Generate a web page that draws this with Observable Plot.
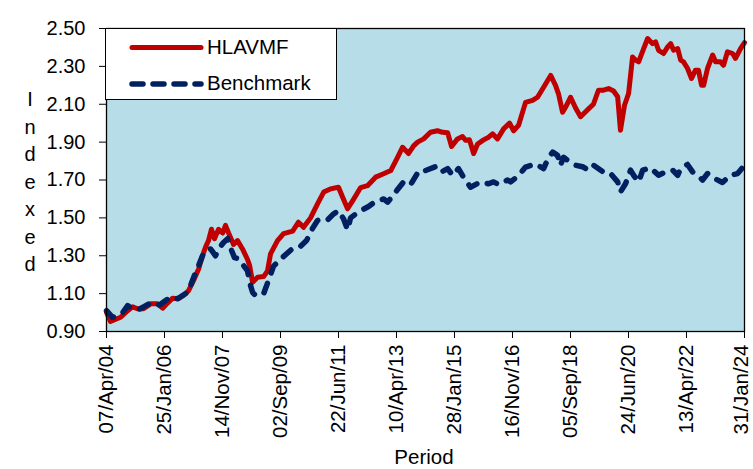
<!DOCTYPE html>
<html><head><meta charset="utf-8">
<script src="https://cdn.jsdelivr.net/npm/d3@7"></script>
<script src="https://cdn.jsdelivr.net/npm/@observablehq/plot@0.6"></script>
<style>
body{margin:0;background:#fff;font-family:"Liberation Sans",Arial,sans-serif;}
#wrap{position:relative;width:753px;height:469px;overflow:hidden;background:#fff;}
#chart{position:absolute;left:0;top:0;}
#chart g[aria-label^="x-axis"] text{font-size:20.5px;}
#legend{position:absolute;left:105px;top:28px;width:232px;height:72px;box-sizing:border-box;border:1px solid #000;background:#fff;}
#legend .lab{position:absolute;left:101px;font-size:20.5px;color:#000;line-height:20px;}
#ytitle{position:absolute;left:18px;top:86px;width:24px;text-align:center;font-size:20px;line-height:27.5px;color:#000;}
#xtitle{position:absolute;left:374px;top:446px;width:100px;text-align:center;font-size:20.5px;color:#000;line-height:22px;}
</style></head>
<body><div id="wrap"><div id="chart"></div>
<div id="legend">
<svg width="232" height="72" style="position:absolute;left:0;top:0">
<line x1="26" y1="18.5" x2="95" y2="18.5" stroke="#C00000" stroke-width="5" stroke-linecap="round"/>
<line x1="26" y1="55" x2="95" y2="55" stroke="#002060" stroke-width="5.5" stroke-linecap="round" stroke-dasharray="11,10"/>
</svg>
<div class="lab" style="top:8px">HLAVMF</div>
<div class="lab" style="top:44px">Benchmark</div>
</div>
<div id="ytitle"></div>
<div id="xtitle">Period</div>
</div>
<script>
const seriesNames = ["HLAVMF", "Benchmark"];
const yAxisTitle = "Indexed";
const xAxisTitle = "Period";
const yTicks = [0.90, 1.10, 1.30, 1.50, 1.70, 1.90, 2.10, 2.30, 2.50];
const xTickLabels = ["07/Apr/04","25/Jan/06","14/Nov/07","02/Sep/09","22/Jun/11","10/Apr/13","28/Jan/15","16/Nov/16","05/Sep/18","24/Jun/20","13/Apr/22","31/Jan/24"];

const hlavmfDates = ["2004-04-07","2004-05-22","2004-09-14","2004-12-03","2005-01-28","2005-03-24","2005-06-01","2005-08-20","2005-11-08","2006-01-04","2006-02-28","2006-04-26","2006-07-03","2006-08-29","2006-10-25","2006-12-21","2007-02-16","2007-04-01","2007-05-05","2007-06-08","2007-07-12","2007-08-15","2007-09-30","2007-11-15","2007-12-18","2008-01-22","2008-03-18","2008-05-02","2008-06-28","2008-08-24","2008-09-16","2008-10-20","2008-12-16","2009-02-23","2009-04-08","2009-05-12","2009-07-30","2009-10-07","2010-01-18","2010-03-25","2010-05-21","2010-08-09","2010-10-27","2011-01-05","2011-03-22","2011-06-22","2011-08-07","2011-10-03","2011-11-29","2012-02-28","2012-05-16","2012-08-16","2012-11-15","2013-02-04","2013-04-22","2013-06-18","2013-08-25","2013-10-21","2013-12-05","2014-02-12","2014-05-01","2014-07-19","2014-09-15","2014-11-11","2014-12-26","2015-03-03","2015-04-29","2015-06-02","2015-07-17","2015-09-02","2015-10-17","2015-12-24","2016-02-19","2016-04-04","2016-05-30","2016-08-07","2016-10-14","2016-11-29","2017-01-25","2017-04-13","2017-07-01","2017-08-27","2017-11-04","2018-01-23","2018-03-19","2018-04-22","2018-06-07","2018-07-10","2018-09-06","2018-11-02","2018-12-28","2019-03-16","2019-05-23","2019-07-19","2019-09-15","2019-11-11","2020-01-07","2020-02-22","2020-03-25","2020-05-10","2020-06-25","2020-08-09","2020-09-13","2020-10-17","2020-12-13","2021-01-27","2021-03-23","2021-04-27","2021-05-31","2021-07-27","2021-09-11","2021-10-15","2021-11-18","2022-01-03","2022-02-06","2022-03-10","2022-04-24","2022-06-09","2022-07-24","2022-08-27","2022-10-01","2022-10-24","2022-12-08","2023-02-04","2023-03-08","2023-05-03","2023-06-07","2023-07-22","2023-09-18","2023-10-21","2023-12-17","2024-01-31"];
const hlavmfValues = [1.00,0.953,0.975,1.01,1.03,1.02,1.02,1.046,1.046,1.023,1.05,1.076,1.073,1.09,1.116,1.17,1.23,1.30,1.345,1.38,1.44,1.39,1.44,1.42,1.46,1.42,1.36,1.38,1.336,1.28,1.25,1.16,1.187,1.19,1.22,1.31,1.38,1.417,1.43,1.477,1.45,1.50,1.574,1.636,1.653,1.662,1.61,1.548,1.59,1.66,1.67,1.715,1.733,1.75,1.82,1.873,1.84,1.88,1.90,1.917,1.952,1.96,1.952,1.95,1.877,1.917,1.93,1.91,1.912,1.84,1.89,1.912,1.926,1.944,1.917,1.97,2.00,1.96,1.99,2.11,2.12,2.137,2.19,2.252,2.20,2.155,2.058,2.084,2.137,2.08,2.034,2.07,2.10,2.174,2.174,2.183,2.17,2.14,1.963,2.095,2.157,2.35,2.333,2.324,2.394,2.447,2.42,2.43,2.385,2.368,2.403,2.42,2.385,2.394,2.333,2.324,2.29,2.236,2.28,2.28,2.20,2.20,2.29,2.36,2.324,2.324,2.306,2.377,2.368,2.342,2.394,2.426];

const benchmarkDates = ["2004-04-07","2004-06-15","2004-08-22","2004-10-07","2004-12-03","2005-01-28","2005-04-06","2005-06-01","2005-08-20","2005-10-16","2005-11-30","2006-02-07","2006-04-04","2006-06-22","2006-08-18","2006-10-14","2006-11-17","2007-01-13","2007-02-16","2007-04-01","2007-05-05","2007-07-01","2007-08-27","2007-09-30","2007-11-26","2008-01-11","2008-02-25","2008-03-29","2008-05-14","2008-07-10","2008-08-24","2008-09-16","2008-10-20","2008-11-24","2009-01-20","2009-02-23","2009-04-19","2009-06-15","2009-09-14","2010-01-06","2010-04-06","2010-06-24","2010-09-01","2010-10-27","2010-12-23","2011-02-19","2011-04-26","2011-06-22","2011-08-18","2011-10-03","2011-11-06","2012-01-02","2012-03-09","2012-05-28","2012-08-16","2012-11-15","2012-12-30","2013-02-25","2013-04-22","2013-06-29","2013-09-17","2013-12-05","2014-01-20","2014-03-05","2014-06-26","2014-08-22","2014-11-11","2015-01-07","2015-03-14","2015-05-10","2015-07-28","2015-11-20","2016-02-19","2016-04-15","2016-06-11","2016-09-22","2016-10-26","2017-01-25","2017-04-13","2017-08-05","2017-11-04","2017-12-31","2018-02-15","2018-04-11","2018-05-14","2018-06-18","2018-08-14","2018-11-02","2019-01-20","2019-03-28","2019-05-23","2019-10-08","2019-12-04","2020-02-22","2020-03-25","2020-05-21","2020-07-17","2020-08-21","2020-10-17","2020-12-02","2021-03-01","2021-05-31","2021-08-19","2021-11-07","2022-01-03","2022-02-06","2022-04-24","2022-06-21","2022-08-17","2022-10-12","2022-12-08","2023-02-26","2023-05-26","2023-08-25","2023-11-14","2024-01-31"];
const benchmarkValues = [1.01,0.975,0.984,1.00,1.037,1.02,1.016,1.03,1.051,1.046,1.04,1.064,1.081,1.073,1.09,1.107,1.143,1.213,1.248,1.30,1.328,1.336,1.30,1.336,1.37,1.39,1.328,1.29,1.284,1.248,1.22,1.16,1.107,1.09,1.10,1.10,1.17,1.245,1.287,1.334,1.345,1.38,1.445,1.486,1.495,1.49,1.52,1.538,1.495,1.437,1.50,1.52,1.54,1.56,1.587,1.60,1.583,1.615,1.65,1.69,1.675,1.737,1.755,1.75,1.77,1.74,1.76,1.724,1.76,1.715,1.662,1.69,1.68,1.69,1.676,1.70,1.69,1.724,1.768,1.785,1.76,1.82,1.847,1.83,1.777,1.82,1.80,1.778,1.77,1.752,1.778,1.734,1.734,1.69,1.637,1.68,1.752,1.725,1.69,1.752,1.764,1.725,1.743,1.752,1.725,1.76,1.782,1.743,1.725,1.70,1.734,1.708,1.687,1.725,1.734,1.778];

const parseDate = d3.utcParse("%Y-%m-%d");
const parseTick = d3.utcParse("%d/%b/%y");
const fmtTick = d3.utcFormat("%d/%b/%y");
const hl = hlavmfDates.map((d, i) => ({date: parseDate(d), value: hlavmfValues[i]}));
const bm = benchmarkDates.map((d, i) => ({date: parseDate(d), value: benchmarkValues[i]}));
const xTicks = xTickLabels.map(parseTick);

const chart = Plot.plot({
  width: 753, height: 469,
  marginLeft: 106, marginRight: 9, marginTop: 28, marginBottom: 138,
  style: {fontFamily: "'Liberation Sans', Arial, sans-serif", fontSize: "20px", color: "#000", background: "transparent", overflow: "visible"},
  x: {type: "utc", domain: [xTicks[0], xTicks[xTicks.length - 1]], ticks: xTicks, tickFormat: fmtTick, tickRotate: -90, tickSize: 7, tickPadding: 6, label: null},
  y: {domain: [0.9, 2.5], ticks: yTicks, tickFormat: d => d.toFixed(2), tickSize: 7, tickPadding: 14, label: null},
  marks: [
    Plot.frame({fill: "#B7DDE8"}),
    Plot.line(hl, {x: "date", y: "value", stroke: "#C00000", strokeWidth: 5, strokeLinejoin: "round", strokeLinecap: "round"}),
    Plot.line(bm, {x: "date", y: "value", stroke: "#002060", strokeWidth: 5.5, strokeDasharray: "10,11", strokeLinejoin: "round", strokeLinecap: "round"}),
    Plot.frame({stroke: "#000", strokeWidth: 1.3})
  ]
});
document.getElementById("chart").appendChild(chart);
// nudge the last x tick label slightly inward so it stays inside the picture
const xLabels = chart.querySelectorAll('g[aria-label^="x-axis"] text');
if (xLabels.length) {
  const last = xLabels[xLabels.length - 1];
  if (last.textContent === xTickLabels[xTickLabels.length - 1]) last.setAttribute("dy", "-0.14em");
}
document.getElementById("ytitle").innerHTML = yAxisTitle.split("").join("<br>");
document.getElementById("xtitle").textContent = xAxisTitle;
</script>
</body></html>
